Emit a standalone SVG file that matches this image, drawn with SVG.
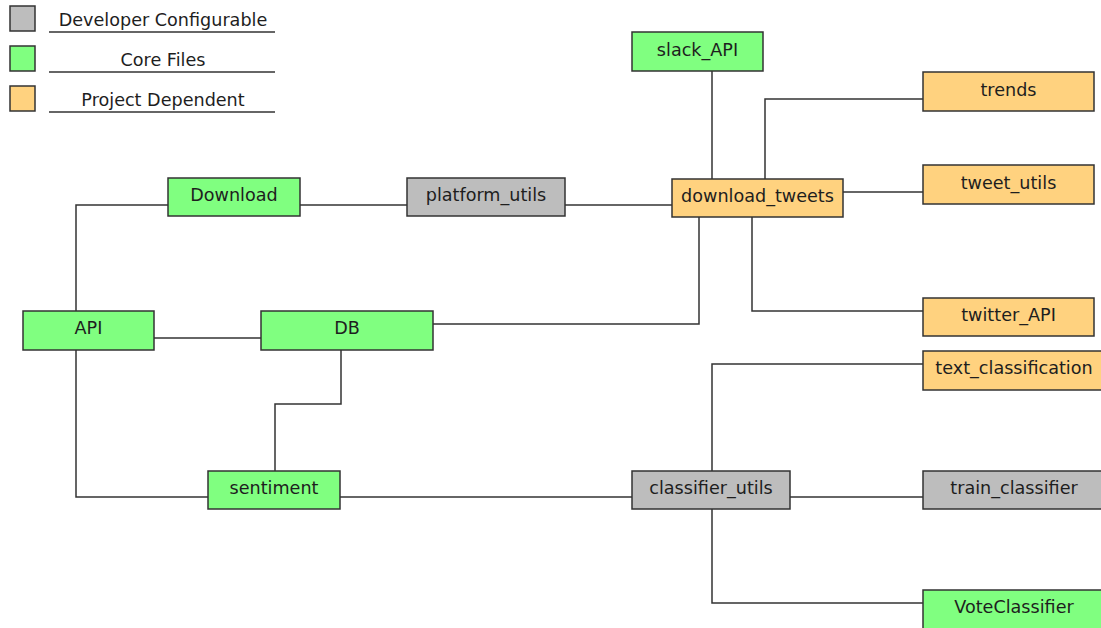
<svg xmlns="http://www.w3.org/2000/svg" width="1101" height="628" viewBox="0 0 1101 628">
  <style>
    .box { stroke: #333; stroke-width: 1.5; }
    .dev { fill: #bdbdbd; }
    .core { fill: #80ff80; }
    .proj { fill: #ffd27f; }
    .lbl { font-family: "DejaVu Sans", "Liberation Sans", sans-serif; font-size: 17.6px; fill: #1e1e1e; text-anchor: middle; }
    .leg { font-family: "DejaVu Sans", "Liberation Sans", sans-serif; font-size: 17.6px; fill: #1e1e1e; text-anchor: middle; }
    .wire { fill: none; stroke: #333; stroke-width: 1.5; }
  </style>
  <rect width="1101" height="628" fill="#fff"/>

  <!-- legend -->
  <g id="legend">
    <rect class="box dev" x="10" y="6" width="25" height="25"/>
    <text class="leg" x="163" y="26">Developer Configurable</text>
    <line class="wire" x1="49" y1="32" x2="275" y2="32"/>
    <rect class="box core" x="10" y="46" width="25" height="25"/>
    <text class="leg" x="163" y="66">Core Files</text>
    <line class="wire" x1="49" y1="72" x2="275" y2="72"/>
    <rect class="box proj" x="10" y="86" width="25" height="25"/>
    <text class="leg" x="163" y="106">Project Dependent</text>
    <line class="wire" x1="49" y1="112" x2="275" y2="112"/>
  </g>

  <!-- connectors -->
  <g id="connectors">
    <path class="wire" d="M712 71 V179"/>
    <path class="wire" d="M765 179 V99 H923"/>
    <path class="wire" d="M843 192 H923"/>
    <path class="wire" d="M699 217 V324 H433"/>
    <path class="wire" d="M752 217 V311 H923"/>
    <path class="wire" d="M300 205 H407"/>
    <path class="wire" d="M565 205 H672"/>
    <path class="wire" d="M76 311 V205 H168"/>
    <path class="wire" d="M154 338 H261"/>
    <path class="wire" d="M76 350 V497 H208"/>
    <path class="wire" d="M341 350 V404 H275 V471"/>
    <path class="wire" d="M340 497 H632"/>
    <path class="wire" d="M712 471 V364 H923"/>
    <path class="wire" d="M790 497 H923"/>
    <path class="wire" d="M712 509 V603 H923"/>
  </g>

  <g id="slack_API"><rect class="box core" x="632" y="32" width="131" height="39"/><text class="lbl" x="697.5" y="56">slack_API</text></g>
  <g id="trends"><rect class="box proj" x="923" y="72" width="171" height="39"/><text class="lbl" x="1008.5" y="96">trends</text></g>
  <g id="tweet_utils"><rect class="box proj" x="923" y="165" width="171" height="39"/><text class="lbl" x="1008.5" y="189">tweet_utils</text></g>
  <g id="download_tweets"><rect class="box proj" x="672" y="179" width="171" height="38"/><text class="lbl" x="757.5" y="202">download_tweets</text></g>
  <g id="Download"><rect class="box core" x="168" y="178" width="132" height="38"/><text class="lbl" x="234" y="201">Download</text></g>
  <g id="platform_utils"><rect class="box dev" x="407" y="178" width="158" height="38"/><text class="lbl" x="486" y="201">platform_utils</text></g>
  <g id="twitter_API"><rect class="box proj" x="923" y="298" width="171" height="38"/><text class="lbl" x="1008.5" y="321">twitter_API</text></g>
  <g id="API"><rect class="box core" x="23" y="311" width="131" height="39"/><text class="lbl" x="88.5" y="334">API</text></g>
  <g id="DB"><rect class="box core" x="261" y="311" width="172" height="39"/><text class="lbl" x="347" y="334">DB</text></g>
  <g id="text_classification"><rect class="box proj" x="923" y="351" width="185" height="39"/><text class="lbl" x="1014" y="374">text_classification</text></g>
  <g id="sentiment"><rect class="box core" x="208" y="471" width="132" height="38"/><text class="lbl" x="274" y="494">sentiment</text></g>
  <g id="classifier_utils"><rect class="box dev" x="632" y="471" width="158" height="38"/><text class="lbl" x="711" y="494">classifier_utils</text></g>
  <g id="train_classifier"><rect class="box dev" x="923" y="471" width="185" height="38"/><text class="lbl" x="1014" y="494">train_classifier</text></g>
  <g id="VoteClassifier"><rect class="box core" x="923" y="590" width="185" height="45"/><text class="lbl" x="1014" y="613">VoteClassifier</text></g>
</svg>
